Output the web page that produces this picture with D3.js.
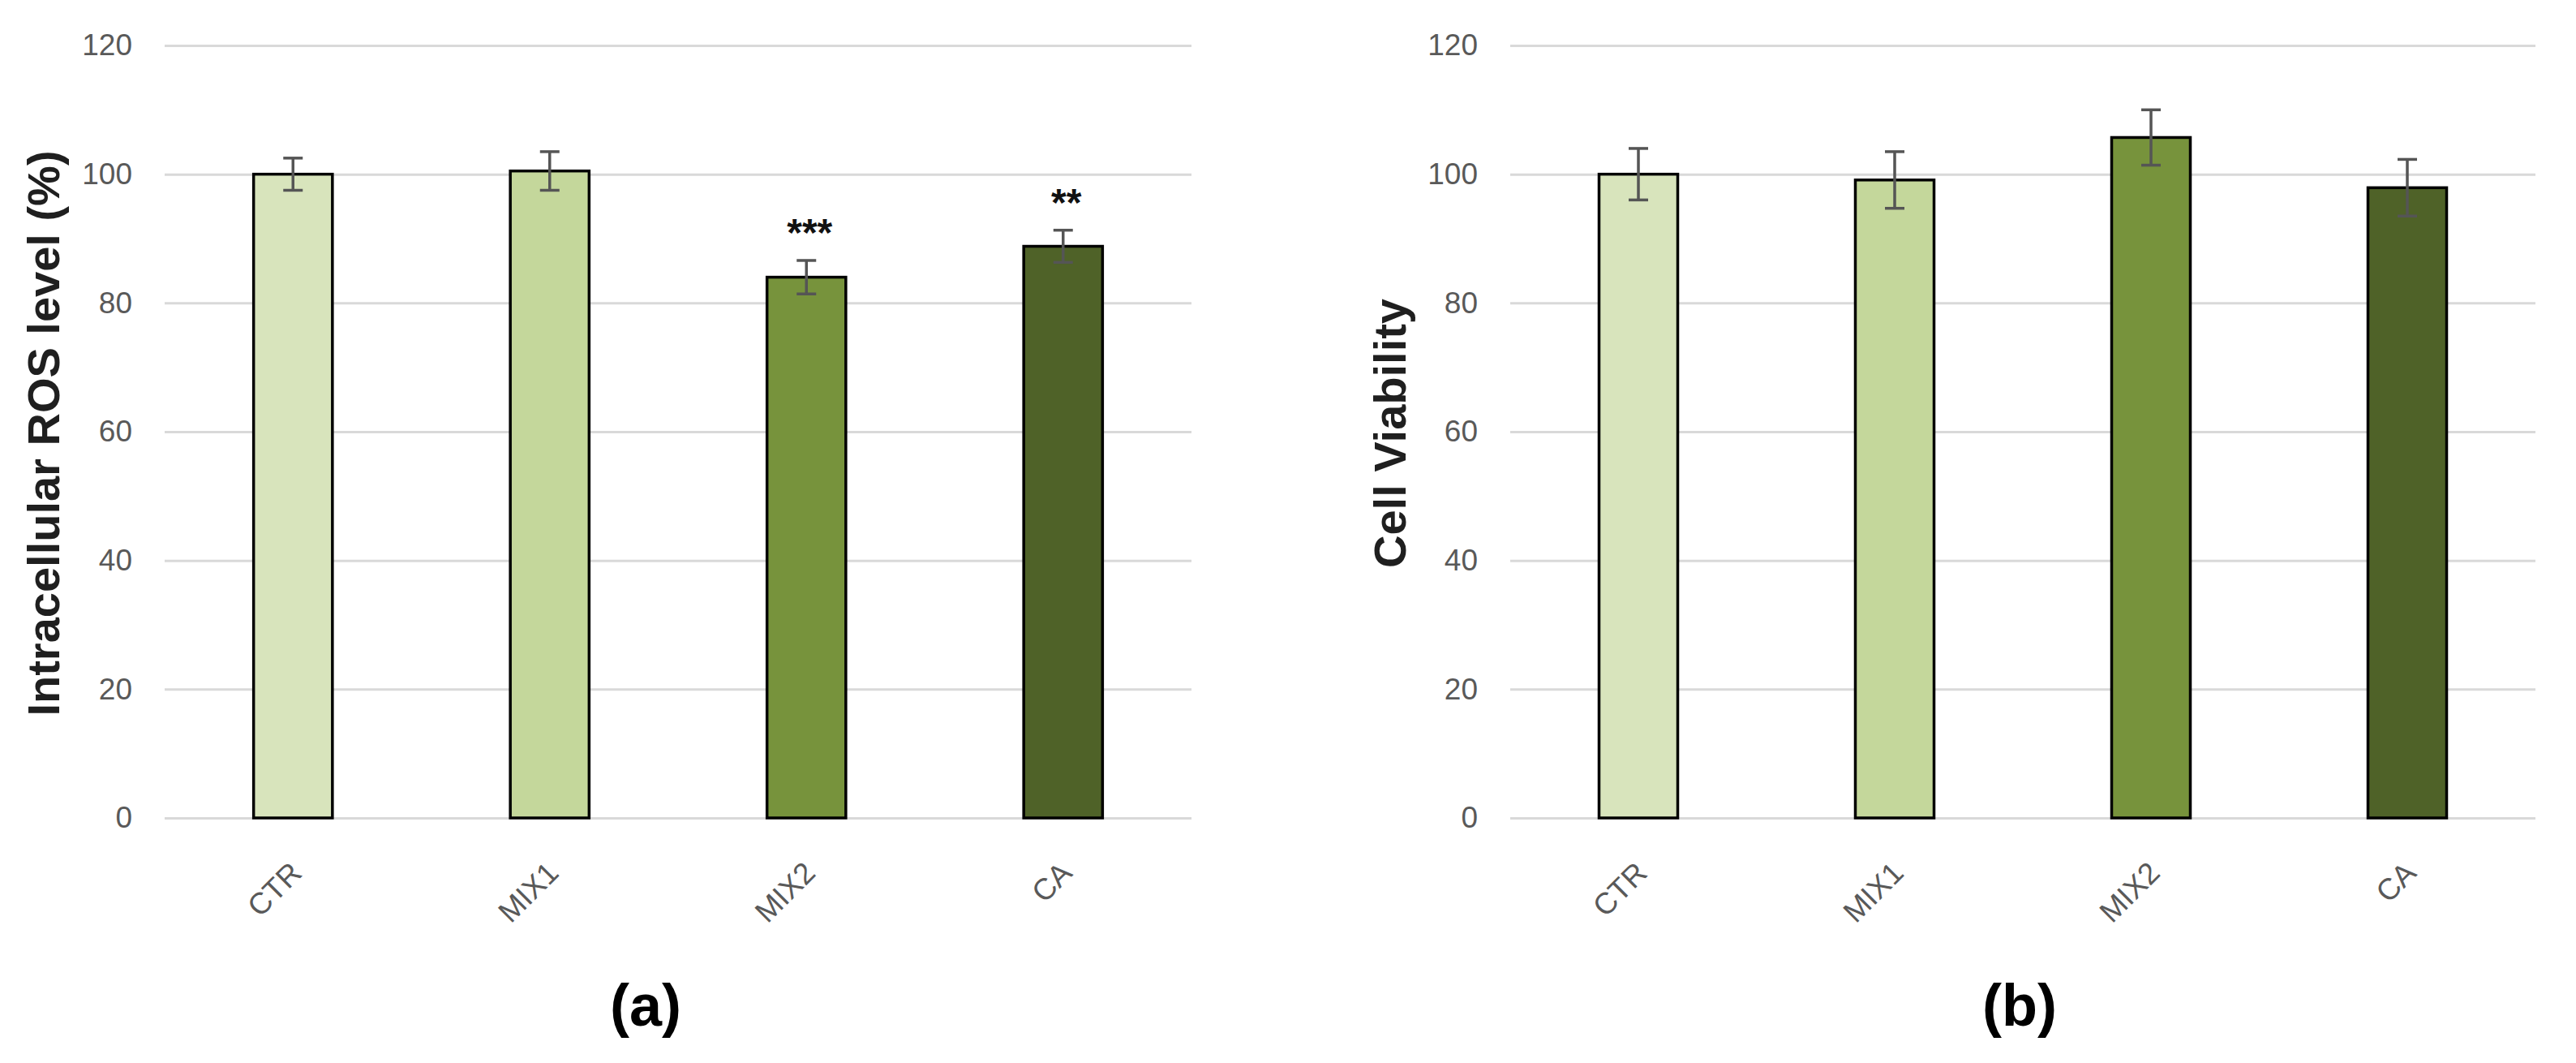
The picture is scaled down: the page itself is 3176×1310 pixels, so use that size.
<!DOCTYPE html>
<html>
<head>
<meta charset="utf-8">
<script src="https://cdn.jsdelivr.net/npm/d3@7"></script>
<style>
  body { margin: 0; background: #fff; }
  svg { display: block; }
</style>
</head>
<body>
<div id="chart"></div>
<script>
// data
var categories = ["CTR", "MIX1", "MIX2", "CA"];
var rosValues = [100, 100.5, 84, 88.8];
var rosErrors = [2.5, 3, 2.6, 2.5];
var rosStars = ["", "", "***", "**"];
var viabilityValues = [100, 99.1, 105.7, 97.9];
var viabilityErrors = [4, 4.4, 4.3, 4.4];
var yTicks = [0, 20, 40, 60, 80, 100, 120];

var barColors = ["#d8e4bc", "#c4d79b", "#77933c", "#4f6228"];

var W = 3176, H = 1310;

var svg = d3.select("#chart")
  .append("svg")
    .attr("width", W)
    .attr("height", H);

svg.append("rect")
  .attr("width", W)
  .attr("height", H)
  .attr("fill", "#fff");

function drawPanel(opts) {
  var x = d3.scaleBand()
    .domain(categories)
    .range([opts.left, opts.right])
    .paddingInner(0.693)
    .paddingOuter(0.3465);

  var y = d3.scaleLinear()
    .domain([0, 120])
    .range([1008, 56]);

  var data = categories.map(function (c, i) {
    return {cat: c, value: opts.values[i], err: opts.errors[i], star: opts.stars ? opts.stars[i] : "", color: barColors[i]};
  });

  // Y axis with gridlines
  var yAxis = svg.append("g")
    .attr("transform", "translate(" + opts.left + ",0)")
    .call(d3.axisLeft(y)
      .tickValues(yTicks)
      .tickSize(-(opts.right - opts.left))
      .tickPadding(40));
  yAxis.select(".domain").remove();
  yAxis.selectAll(".tick line")
    .attr("stroke", "#d9d9d9")
    .attr("stroke-width", 3);
  yAxis.selectAll(".tick text")
    .attr("fill", "#595959")
    .style("font-family", "'Liberation Sans', Arial, sans-serif")
    .style("font-size", "37px");

  // X axis labels
  var xAxis = svg.append("g")
    .attr("transform", "translate(0," + y(0) + ")")
    .call(d3.axisBottom(x).tickSize(0));
  xAxis.select(".domain").remove();
  xAxis.selectAll(".tick text")
    .attr("x", 0)
    .attr("y", 0)
    .attr("dy", 0)
    .attr("text-anchor", "end")
    .attr("transform", "translate(13,70) rotate(-45)")
    .attr("fill", "#595959")
    .style("font-family", "'Liberation Sans', Arial, sans-serif")
    .style("font-size", "37px");

  // bars
  svg.append("g")
    .selectAll("rect")
    .data(data)
    .enter()
    .append("rect")
      .attr("x", function (d) { return x(d.cat); })
      .attr("y", function (d) { return y(d.value); })
      .attr("width", x.bandwidth())
      .attr("height", function (d) { return y(0) - y(d.value); })
      .attr("fill", function (d) { return d.color; })
      .attr("stroke", "#000")
      .attr("stroke-width", 3.5);

  // error bars
  var eb = svg.append("g")
    .attr("stroke", "#555")
    .attr("stroke-width", 3.5)
    .selectAll("g")
    .data(data)
    .enter()
    .append("g");
  var cx = function (d) { return x(d.cat) + x.bandwidth() / 2; };
  eb.append("line")
    .attr("x1", cx).attr("x2", cx)
    .attr("y1", function (d) { return y(d.value + d.err); })
    .attr("y2", function (d) { return y(d.value - d.err); });
  eb.append("line")
    .attr("x1", function (d) { return cx(d) - 12; })
    .attr("x2", function (d) { return cx(d) + 12; })
    .attr("y1", function (d) { return y(d.value + d.err); })
    .attr("y2", function (d) { return y(d.value + d.err); });
  eb.append("line")
    .attr("x1", function (d) { return cx(d) - 12; })
    .attr("x2", function (d) { return cx(d) + 12; })
    .attr("y1", function (d) { return y(d.value - d.err); })
    .attr("y2", function (d) { return y(d.value - d.err); });

  // significance stars
  svg.append("g")
    .selectAll("text")
    .data(data.filter(function (d) { return d.star; }))
    .enter()
    .append("text")
      .attr("x", function (d) { return cx(d) + 4; })
      .attr("y", function (d) { return y(d.value + d.err) - 18; })
      .attr("text-anchor", "middle")
      .style("font-family", "'Liberation Sans', Arial, sans-serif")
      .style("font-weight", "bold")
      .style("font-size", "48px")
      .attr("fill", "#111")
      .text(function (d) { return d.star; });

  // y axis title
  svg.append("text")
    .attr("transform", "translate(" + opts.titleX + "," + (y(60) + 2) + ") rotate(-90)")
    .attr("text-anchor", "middle")
    .style("font-family", "'Liberation Sans', Arial, sans-serif")
    .style("font-weight", "bold")
    .style("font-size", "56px")
    .attr("fill", "#1f1f1f")
    .text(opts.title);

  // panel label
  svg.append("text")
    .attr("x", opts.labelX)
    .attr("y", 1264)
    .attr("text-anchor", "middle")
    .style("font-family", "'Liberation Sans', Arial, sans-serif")
    .style("font-weight", "bold")
    .style("font-size", "72px")
    .attr("fill", "#000")
    .text(opts.label);
}

drawPanel({
  left: 203, right: 1469,
  values: rosValues, errors: rosErrors, stars: rosStars,
  title: "Intracellular ROS level (%)", titleX: 73,
  label: "(a)", labelX: 796
});

drawPanel({
  left: 1862, right: 3126,
  values: viabilityValues, errors: viabilityErrors, stars: null,
  title: "Cell Viability", titleX: 1733,
  label: "(b)", labelX: 2490
});
</script>
</body>
</html>
